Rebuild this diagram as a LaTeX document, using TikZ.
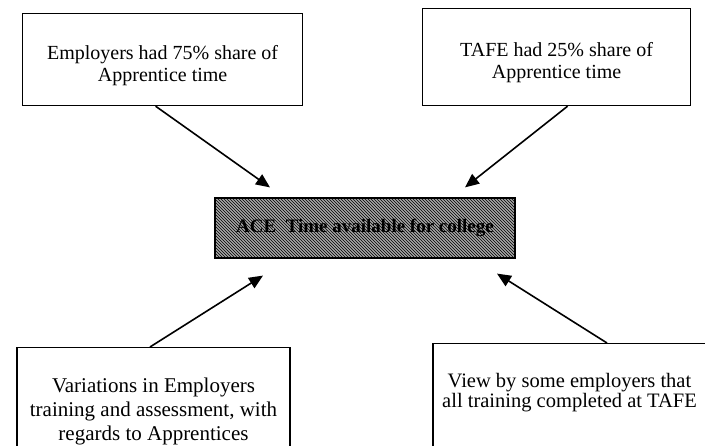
\documentclass[tikz,border=0pt]{standalone}
\usepackage{fontspec}
\setmainfont{Liberation Serif}
\usetikzlibrary{arrows.meta,patterns,calc}

\newcommand{\topgap}{\rule{0pt}{26pt}}

\begin{document}
\begin{tikzpicture}[x=1pt,y=-1pt,
		  every node/.style={draw,line width=1.2pt,font=\fontsize{20}{22}\selectfont,align=center,inner sep=0pt},
		  topbox/.style={anchor=north west},
		  lowbox/.style={anchor=north,inner ysep=30pt,text depth=70pt},
		  acebox/.style={fill=gray!70,postaction={pattern=north west lines},font=\bfseries\fontsize{19}{22}\selectfont},
		  >={Triangle[length=14pt,width=12pt]},line width=1.6pt
		]

			\clip (0,0) rectangle (705,446);

			% the causes at the top
			\node[topbox,minimum width=280pt,minimum height=92pt] (emp) at (22,13) {\topgap Employers had 75\% share of\\Apprentice time};
			\node[topbox,minimum width=268pt,minimum height=97pt] (tafe) at (422,8) {\topgap TAFE had 25\% share of\\Apprentice time};

			% the time left for college
			\node[acebox,minimum width=300pt,minimum height=60pt] (ace) at (365,228) {ACE\ \ Time available for college};

			% the causes at the bottom
			\node[lowbox,minimum width=273pt,font=\fontsize{21}{24}\selectfont] (var) at (153.5,347) {Variations in Employers\\training and assessment, with\\regards to Apprentices};
			\node[lowbox,minimum width=273pt,font=\fontsize{20.5}{20}\selectfont] (view) at (569.5,343) {View by some employers that\\all training completed at TAFE};

			% the arrows
			\draw[->] ([xshift=-7pt]emp.south) -- ([xshift=-95pt,yshift=10pt]ace.north);
			\draw[->] ([xshift=11pt]tafe.south) -- ([xshift=100pt,yshift=10pt]ace.north);
			\draw[->] ([xshift=-3.5pt]var.north) -- ([xshift=-102pt,yshift=-17pt]ace.south);
			\draw[->] ([xshift=37.5pt]view.north) -- ([xshift=132pt,yshift=-15pt]ace.south);

		\end{tikzpicture}
\end{document}
